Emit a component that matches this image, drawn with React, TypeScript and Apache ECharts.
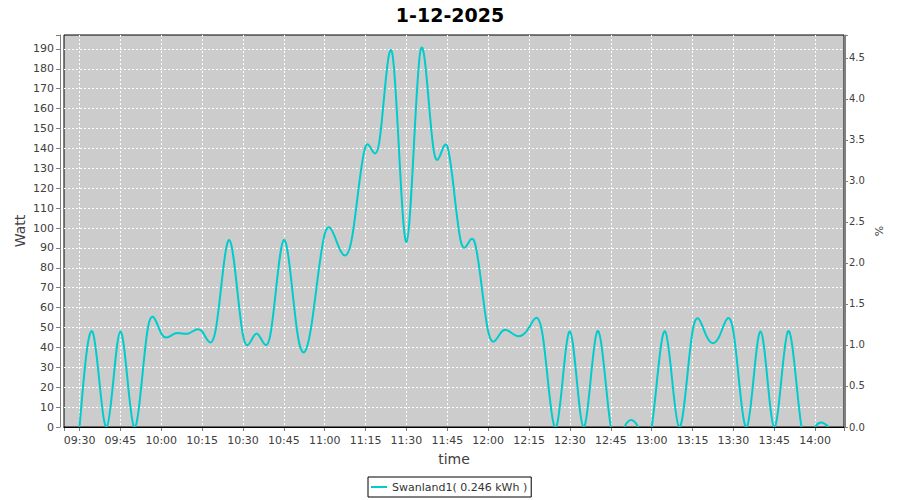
import React, { useEffect, useRef } from 'react';
import * as echarts from 'echarts';

const chartTitle = '1-12-2025';
const seriesName = 'Swanland1( 0.246 kWh )';

const times = [
  '09:30', '09:35', '09:40', '09:45', '09:50', '09:55', '10:00', '10:05', '10:10', '10:15',
  '10:20', '10:25', '10:30', '10:35', '10:40', '10:45', '10:50', '10:55', '11:00', '11:05',
  '11:10', '11:15', '11:20', '11:25', '11:30', '11:35', '11:40', '11:45', '11:50', '11:55',
  '12:00', '12:05', '12:10', '12:15', '12:20', '12:25', '12:30', '12:35', '12:40', '12:45',
  '12:50', '12:55', '13:00', '13:05', '13:10', '13:15', '13:20', '13:25', '13:30', '13:35',
  '13:40', '13:45', '13:50', '13:55', '14:00', '14:05',
];

const watts = [
  0, 47, 0, 48, 0, 49, 47, 47, 47, 48,
  49, 94, 46, 47, 46, 94, 47, 50, 97, 91,
  95, 141, 143, 186, 93, 188, 139, 141, 93, 93,
  48, 48, 46, 50, 46, 0, 48, 0, 48, 0,
  0, 0, 0, 48, 0, 48, 46, 46, 48, 0,
  48, 0, 48, 0, 0, 0,
];

const toMinutes = (t: string) => {
  const [h, m] = t.split(':').map(Number);
  return h * 60 + m;
};
const fmtTime = (v: number) => {
  const h = Math.floor(v / 60);
  const m = Math.round(v - h * 60);
  return String(h).padStart(2, '0') + ':' + String(m).padStart(2, '0');
};

// Natural cubic spline through pixel points, written as exact cubic Bezier segments
function splinePath(pts: number[][]): string {
  const n = pts.length;
  if (n < 2) return '';
  const x = pts.map((p) => p[0]);
  const y = pts.map((p) => p[1]);
  const h: number[] = [];
  for (let i = 0; i < n - 1; i++) h.push(x[i + 1] - x[i]);
  const M = new Array(n).fill(0);
  if (n > 2) {
    const cp: number[] = new Array(n).fill(0);
    const dp: number[] = new Array(n).fill(0);
    for (let i = 1; i <= n - 2; i++) {
      const a = h[i - 1];
      const b = 2 * (h[i - 1] + h[i]);
      const c = h[i];
      const d = 6 * ((y[i + 1] - y[i]) / h[i] - (y[i] - y[i - 1]) / h[i - 1]);
      if (i === 1) {
        cp[i] = c / b;
        dp[i] = d / b;
      } else {
        const den = b - a * cp[i - 1];
        cp[i] = c / den;
        dp[i] = (d - a * dp[i - 1]) / den;
      }
    }
    M[n - 2] = dp[n - 2];
    for (let i = n - 3; i >= 1; i--) M[i] = dp[i] - cp[i] * M[i + 1];
  }
  let d = `M${x[0]},${y[0]}`;
  for (let i = 0; i < n - 1; i++) {
    const hh = h[i];
    const s = (y[i + 1] - y[i]) / hh;
    const m0 = s - (hh * (2 * M[i] + M[i + 1])) / 6;
    const m1 = s + (hh * (M[i] + 2 * M[i + 1])) / 6;
    d += ` C${x[i] + hh / 3},${y[i] + (m0 * hh) / 3} ${x[i + 1] - hh / 3},${y[i + 1] - (m1 * hh) / 3} ${x[i + 1]},${y[i + 1]}`;
  }
  return d;
}

const X_MIN = 564.3;
const X_MAX = 850.6;
const FONT = 'DejaVu Sans';
const AXIS_GRAY = '#808080';
const LABEL_GRAY = '#404040';
const LINE_COLOR = '#00cccc';

export default function App() {
  const ref = useRef<HTMLDivElement>(null);
  useEffect(() => {
    if (!ref.current) return;
    const chart = echarts.init(ref.current, undefined, { renderer: 'svg' });
    const data = times.map((t, i) => [toMinutes(t), watts[i]]);
    const gridLine = {
      show: true, showMinLine: false, showMaxLine: false,
      lineStyle: { color: '#ffffff', width: 1, type: [2, 2] },
    };
    chart.setOption({
      animation: false,
      backgroundColor: '#ffffff',
      textStyle: { fontFamily: FONT },
      title: {
        text: chartTitle,
        left: 'center',
        top: 0,
        textStyle: { fontFamily: FONT, fontWeight: 'bold', fontSize: 19, color: '#000000' },
      },
      grid: {
        left: 64, right: 56, top: 35, bottom: 73,
        show: true, backgroundColor: '#cccccc', borderColor: '#000000', borderWidth: 1,
      },
      legend: {
        data: [seriesName],
        left: 368, top: 477,
        padding: [3, 4, 3, 3],
        borderColor: '#000000', borderWidth: 1,
        icon: 'rect', itemWidth: 16, itemHeight: 2,
        itemStyle: { color: LINE_COLOR },
        textStyle: { fontFamily: FONT, fontSize: 11, color: '#333333', lineHeight: 14 },
      },
      xAxis: [
        {
          type: 'value', position: 'bottom', min: X_MIN, max: X_MAX,
          minInterval: 15, maxInterval: 15, offset: 3,
          name: 'time', nameLocation: 'middle', nameGap: 22, nameMoveOverlap: false,
          nameTextStyle: { fontFamily: FONT, fontSize: 14, color: LABEL_GRAY },
          axisLine: { show: true, lineStyle: { color: AXIS_GRAY } },
          axisTick: { show: true, length: 4, lineStyle: { color: AXIS_GRAY } },
          axisLabel: {
            margin: 5, fontFamily: FONT, fontSize: 11, color: LABEL_GRAY,
            formatter: (v: number) => (Math.abs(v / 15 - Math.round(v / 15)) < 1e-6 ? fmtTime(v) : ''),
          },
          splitLine: gridLine,
        },
        {
          type: 'value', position: 'bottom', min: X_MIN, max: X_MAX, offset: 0, z: 10,
          axisLine: { show: true, lineStyle: { color: '#000000' } },
          axisTick: { show: false }, axisLabel: { show: false }, splitLine: { show: false },
        },
      ],
      yAxis: [
        {
          type: 'value', position: 'left', min: 0, max: 197, interval: 10, offset: 4,
          name: 'Watt', nameLocation: 'middle', nameGap: 33, nameRotate: 90, nameMoveOverlap: false,
          nameTextStyle: { fontFamily: FONT, fontSize: 14, color: LABEL_GRAY },
          axisLine: { show: true, lineStyle: { color: AXIS_GRAY } },
          axisTick: { show: true, length: 4, lineStyle: { color: AXIS_GRAY } },
          axisLabel: {
            margin: 6, fontFamily: FONT, fontSize: 11, color: LABEL_GRAY,
            formatter: (v: number) => (v % 10 === 0 ? String(v) : ''),
          },
          splitLine: gridLine,
        },
        {
          type: 'value', position: 'right', min: 0, max: 4.78, interval: 0.5, offset: 1,
          name: '%', nameLocation: 'middle', nameGap: 29, nameRotate: 90, nameMoveOverlap: false,
          nameTextStyle: { fontFamily: FONT, fontSize: 11, color: LABEL_GRAY },
          axisLine: { show: true, lineStyle: { color: AXIS_GRAY } },
          axisTick: { show: true, length: 3, lineStyle: { color: AXIS_GRAY } },
          axisLabel: {
            margin: 4, fontFamily: FONT, fontSize: 10, color: LABEL_GRAY,
            formatter: (v: number) => (Math.abs(v * 2 - Math.round(v * 2)) < 1e-6 ? v.toFixed(1) : ''),
          },
          splitLine: { show: false },
        },
      ],
      series: [
        {
          name: seriesName,
          type: 'custom',
          coordinateSystem: 'cartesian2d',
          xAxisIndex: 0,
          yAxisIndex: 0,
          data,
          encode: { x: 0, y: 1 },
          clip: true,
          itemStyle: { color: LINE_COLOR },
          renderItem: (params: any, api: any) => {
            if (params.dataIndex !== 0) return null;
            const pts = data.map((p) => api.coord(p));
            return {
              type: 'path',
              shape: { pathData: splinePath(pts) },
              style: { fill: 'none', stroke: LINE_COLOR, lineWidth: 2 },
            };
          },
        },
      ],
    });
    return () => chart.dispose();
  }, []);
  return (
    <div
      ref={ref}
      style={{ position: 'fixed', left: 0, top: 0, width: 900, height: 500 }}
    />
  );
}
